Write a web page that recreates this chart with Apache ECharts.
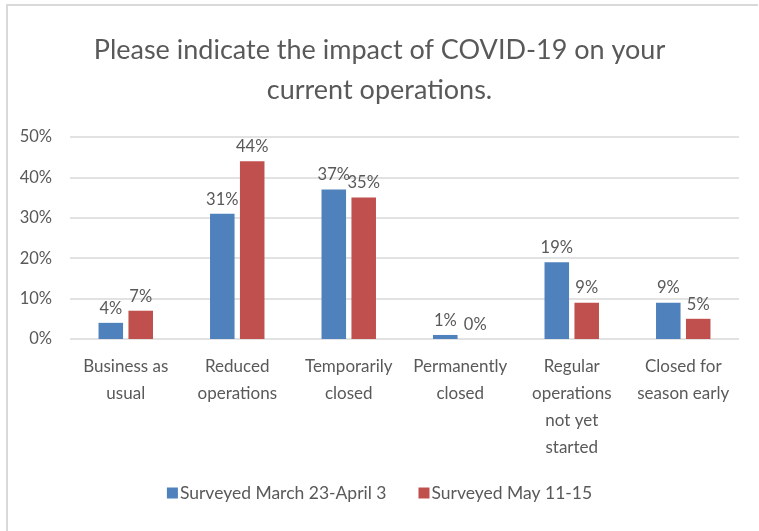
<!DOCTYPE html>
<html>
<head>
<meta charset="utf-8">
<script src="https://cdn.jsdelivr.net/npm/echarts@6/dist/echarts.min.js"></script>
<style>
  html, body { margin: 0; padding: 0; background: #fff; }
  #chart { width: 759px; height: 531px; }
</style>
</head>
<body>
<div id="chart"></div>
<script>
// categories and survey results (percent)
const categories = [
  'Business as\nusual',
  'Reduced\noperations',
  'Temporarily\nclosed',
  'Permanently\nclosed',
  'Regular\noperations\nnot yet\nstarted',
  'Closed for\nseason early'
];
const marchApril = [4, 31, 37, 1, 19, 9];
const may = [7, 44, 35, 0, 9, 5];
const seriesNames = ['Surveyed March 23-April 3', 'Surveyed May 11-15'];
const yTicks = [0, 10, 20, 30, 40, 50];

const font = 'Lato, "Open Sans", sans-serif';
const grey = '#595959';

const myChart = echarts.init(document.getElementById('chart'));

const labelStyle = {
  show: true,
  position: 'top',
  distance: 6,
  fontFamily: font,
  fontSize: 16.5,
  color: grey,
  formatter: function (p) { return p.value + '%'; }
};

const option = {
  animation: false,
  title: {
    text: 'Please indicate the impact of COVID-19 on your\ncurrent operations.',
    left: 'center',
    top: 25,
    textStyle: {
      fontFamily: font,
      fontSize: 27,
      fontWeight: 'normal',
      color: grey,
      lineHeight: 40
    }
  },
  legend: {
    bottom: 24,
    left: 'center',
    itemWidth: 11,
    itemHeight: 11,
    itemGap: 32,
    icon: 'rect',
    textStyle: { fontFamily: font, fontSize: 17.5, color: grey, padding: [0, 0, 0, -3] },
    data: seriesNames
  },
  grid: {
    left: 70,
    right: 20,
    top: 137,
    bottom: 192,
    containLabel: false
  },
  xAxis: {
    type: 'category',
    data: categories,
    axisLine: { show: false },
    axisTick: { show: false },
    axisLabel: {
      interval: 0,
      margin: 14,
      fontFamily: font,
      fontSize: 17,
      color: grey,
      lineHeight: 27,
      align: 'center'
    }
  },
  yAxis: {
    type: 'value',
    min: yTicks[0],
    max: yTicks[yTicks.length - 1],
    interval: 10,
    axisLine: { show: false },
    axisTick: { show: false },
    axisLabel: {
      margin: 18,
      fontFamily: font,
      fontSize: 16.5,
      color: grey,
      formatter: '{value}%'
    },
    splitLine: { lineStyle: { color: '#d9d9d9', width: 1.5 } }
  },
  series: [
    {
      name: seriesNames[0],
      type: 'bar',
      data: marchApril,
      barWidth: '22%',
      barGap: '22%',
      itemStyle: { color: '#4f81bd' },
      label: labelStyle
    },
    {
      name: seriesNames[1],
      type: 'bar',
      data: may,
      barWidth: '22%',
      itemStyle: { color: '#c0504d' },
      label: labelStyle
    }
  ],
  graphic: [
    {
      type: 'polyline',
      shape: { points: [[7, 531], [7, 5], [758, 5]] },
      style: { stroke: '#d9d9d9', lineWidth: 2, fill: null }
    }
  ]
};

myChart.setOption(option);
</script>
</body>
</html>
